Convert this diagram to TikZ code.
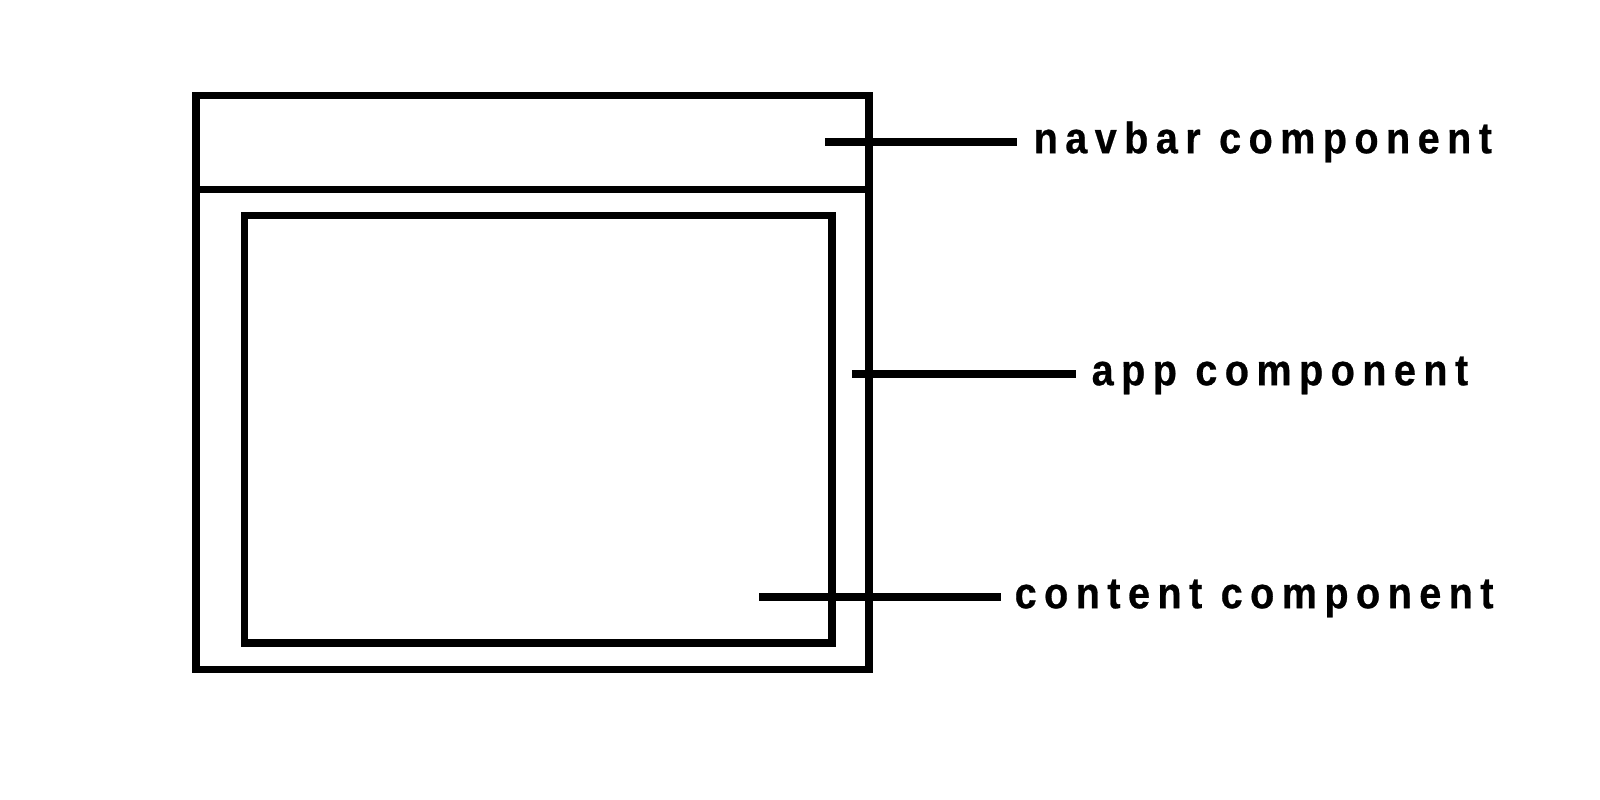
\documentclass[tikz,border=0pt]{standalone}
\usepackage{fontspec}
\newfontfamily\complabelfont{Liberation Sans Bold}[FakeStretch=0.9, FakeBold=0.6, LetterSpace=17]
\usetikzlibrary{positioning}

\begin{document}
\begin{tikzpicture}[x=0.1mm, y=-0.1mm,
  box/.style={draw, line width=0.78mm, inner sep=0pt, outer sep=0pt},
  leader/.style={line width=0.8mm},
  complabel/.style={anchor=west, inner sep=0pt, text height=2.25mm, text depth=0pt,
    font=\complabelfont\fontsize{12.5}{14}\selectfont}]
\useasboundingbox (0,0) rectangle (1600,800);

%Boxes:
\node (app) [box, minimum width=67.3mm, minimum height=57.4mm] at (532.5,382.5) {};
\node (navbar) [box, minimum width=67.3mm, minimum height=9.4mm] at (532.5,142.5) {};
\node (content) [box, minimum width=58.75mm, minimum height=42.75mm] at (538.25,429.25) {};

%Leaders:
\coordinate (navbar in) at (825,142);
\coordinate (navbar out) at (1017,142);
\coordinate (app in) at (852,374);
\coordinate (app out) at (1076,374);
\coordinate (content in) at (759,597);
\coordinate (content out) at (1001,597);

\node (navbar lbl) [complabel, right=1.6mm of navbar out] {navbar component};
\node (app lbl) [complabel, right=1.5mm of app out] {app component};
\node (content lbl) [complabel, right=1.3mm of content out] {content component};

\path [leader]
(navbar in) edge (navbar out)
(app in) edge (app out)
(content in) edge (content out)
;

\end{tikzpicture}
\end{document}
